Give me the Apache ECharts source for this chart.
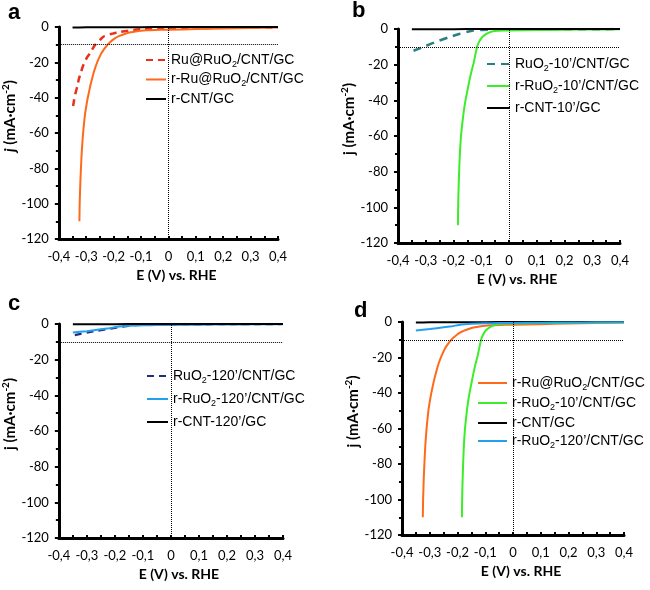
<!DOCTYPE html>
<html><head><meta charset="utf-8">
<script src="https://cdn.jsdelivr.net/npm/echarts@6/dist/echarts.min.js"></script>
<style>html,body{margin:0;padding:0;background:#fff}#c{width:650px;height:590px}</style>
</head><body><div id="c"></div>
<script>
// ---- data ----
const xTicks = [-0.4,-0.3,-0.2,-0.1,0,0.1,0.2,0.3,0.4];
const yTicks = [-120,-100,-80,-60,-40,-20,0];

// panel a
const ruRuO2_E = [-0.348,-0.344,-0.34,-0.336,-0.333,-0.327,-0.32,-0.313,-0.306,-0.3,-0.293,-0.286,-0.277,-0.268,-0.259,-0.25,-0.242,-0.233,-0.222,-0.21,-0.198,-0.186,-0.173,-0.16,-0.14,-0.12,-0.1,-0.05,0,0.1,0.2,0.3,0.4];
const ruRuO2_j = [-44.7,-41,-38,-35.5,-33.8,-29.5,-26,-22.5,-20,-18,-16.3,-14.9,-12.4,-10.2,-8.6,-7.3,-6.1,-5.1,-4.5,-4,-3.5,-3.1,-2.7,-2.4,-2,-1.6,-1.3,-1,-0.8,-0.6,-0.4,-0.3,-0.2];
const rRuRuO2_E = [-0.325,-0.3245,-0.324,-0.323,-0.322,-0.3205,-0.319,-0.3175,-0.316,-0.313,-0.31,-0.307,-0.304,-0.299,-0.295,-0.29,-0.286,-0.28,-0.274,-0.268,-0.262,-0.256,-0.25,-0.245,-0.238,-0.23,-0.221,-0.212,-0.203,-0.194,-0.185,-0.17,-0.155,-0.138,-0.12,-0.1,-0.08,-0.05,0,0.1,0.2,0.3,0.4];
const rRuRuO2_j = [-110,-105,-100,-95,-90,-84,-79,-74,-69.6,-63,-57.5,-53,-48.8,-44,-40.5,-36.8,-33.8,-30,-26.5,-23.4,-20.8,-18.5,-16.5,-14.9,-13.2,-11.5,-9.8,-8.5,-7.3,-6.3,-5.5,-4.5,-3.7,-3.0,-2.5,-2.1,-1.9,-1.7,-1.5,-1.2,-0.9,-0.6,-0.3];
const rCNT_E = [-0.35,-0.3,-0.2,-0.1,0,0.1,0.2,0.3,0.4];
const rCNT_j = [-0.3,-0.2,-0.1,-0.1,0,0,0,0,0];

// panel b
const ruO2_10_E = [-0.344,-0.3,-0.26,-0.22,-0.18,-0.15,-0.13,-0.1,0,0.1,0.2,0.3,0.4];
const ruO2_10_j = [-12.2,-9.5,-7,-4.8,-2.8,-1.5,-0.8,-0.5,-0.3,-0.2,-0.15,-0.1,-0.05];
const rRuO2_10_E = [-0.184,-0.1835,-0.1825,-0.181,-0.179,-0.1765,-0.173,-0.169,-0.165,-0.16,-0.155,-0.151,-0.146,-0.14,-0.134,-0.128,-0.122,-0.115,-0.108,-0.1,-0.091,-0.08,-0.07,-0.061,-0.04,0,0.1,0.2,0.3,0.4];
const rRuO2_10_j = [-110,-102,-94,-86,-77,-68,-60,-54,-48.5,-43,-38.5,-35.5,-31.5,-27,-23,-19.5,-15,-10,-7.2,-5.2,-3.8,-2.6,-1.9,-1.4,-1.0,-0.8,-0.6,-0.4,-0.3,-0.2];
const rCNT10_E = [-0.35,-0.3,-0.2,-0.1,0,0.1,0.2,0.3,0.4];
const rCNT10_j = [-0.2,-0.1,-0.1,0,0,0,0,0,0];

// panel c
const ruO2_120_E = [-0.343,-0.283,-0.225,-0.173,-0.13,-0.1,0,0.1,0.2,0.3,0.4];
const ruO2_120_j = [-6.2,-4.3,-2.8,-1.5,-0.6,-0.5,-0.3,-0.2,-0.1,-0.1,0];
const rRuO2_120_E = [-0.35,-0.3,-0.25,-0.22,-0.19,-0.15,-0.1,-0.05,0,0.1,0.2,0.3,0.4];
const rRuO2_120_j = [-4.8,-4.0,-3.0,-2.4,-1.5,-1.0,-0.7,-0.6,-0.5,-0.4,-0.3,-0.2,-0.1];
const rCNT120_E = [-0.35,-0.3,-0.2,-0.1,0,0.1,0.2,0.3,0.4];
const rCNT120_j = [-0.2,-0.1,-0.1,0,0,0,0,0,0];

const pair = (E, j) => E.map((e, i) => [e, j[i]]);

// ---- styling helpers ----
const AX_FONT = 'Lato';
const LEG_FONT = 'Liberation Sans';
const grids = [
  {left: 53, top: 27, width: 225, height: 212},
  {left: 398, top: 29, width: 222, height: 214},
  {left: 53, top: 324, width: 230, height: 214},
  {left: 402, top: 322, width: 222, height: 213}
];
function xAx(i) {
  return {
    type: 'value', gridIndex: i, min: xTicks[0], max: xTicks[xTicks.length-1], interval: 0.1,
    splitLine: {show: false},
    axisLine: {onZero: false, lineStyle: {color: '#000', width: 3}},
    axisTick: {inside: true, length: 3, lineStyle: {width: 2, color: '#000'}},
    minorTick: {show: true, splitNumber: 2, length: 3, lineStyle: {width: 2, color: '#000'}},
    axisLabel: {margin: 11, color: '#000', fontFamily: AX_FONT, fontSize: 13,
      formatter: v => Math.abs(v) < 1e-9 ? '0' : v.toFixed(1).replace('.', ',')},
    name: 'E (V) vs. RHE', nameLocation: 'middle', nameGap: 29,
    nameTextStyle: {fontFamily: AX_FONT, fontWeight: 'bold', fontSize: 14, color: '#000', padding: [0,0,0,16]}
  };
}
function yAx(i, italic) {
  const nm = italic ? '{i|j}{b| (mA·cm}{s|-2}{b|)}' : '{b|j (mA·cm}{s|-2}{b|)}';
  return {
    type: 'value', gridIndex: i, min: yTicks[0], max: yTicks[yTicks.length-1], interval: 20,
    splitLine: {show: false},
    axisLine: {onZero: false, lineStyle: {color: '#000', width: 3}},
    axisTick: {length: 4, lineStyle: {width: 2, color: '#000'}},
    minorTick: {show: true, splitNumber: 2, length: 3, lineStyle: {width: 2, color: '#000'}},
    axisLabel: {margin: 10, color: '#000', fontFamily: AX_FONT, fontSize: 13},
    name: nm, nameLocation: 'middle', nameRotate: 90, nameGap: 32,
    nameTextStyle: {padding: [0,0,0,34], rich: {
      b: {fontFamily: AX_FONT, fontWeight: 'bold', fontSize: 15, color: '#000', lineHeight: 18},
      i: {fontFamily: AX_FONT, fontWeight: 'bold', fontStyle: 'italic', fontSize: 15, color: '#000', lineHeight: 18},
      s: {fontFamily: AX_FONT, fontWeight: 'bold', fontSize: 10, color: '#000', verticalAlign: 'top'}
    }}
  };
}
function legendFmt(name) {
  return name.split('O2').map(p => '{n|' + p + '}').join('{n|O}{s|2}');
}
function leg(names, left, top, gap, w) {
  return {
    data: names, orient: 'vertical', left: left, top: top, itemGap: gap,
    itemWidth: w, itemHeight: 12, padding: 0, selectedMode: false,
    itemStyle: {opacity: 0},
    formatter: legendFmt,
    textStyle: {rich: {
      n: {fontFamily: LEG_FONT, fontSize: 14, color: '#000', lineHeight: 18},
      s: {fontFamily: LEG_FONT, fontSize: 9, color: '#000', verticalAlign: 'bottom'}
    }}
  };
}
const refLines = {
  silent: true, symbol: 'none', label: {show: false},
  lineStyle: {color: '#000', type: 'dotted', width: 1},
  data: [{xAxis: 0}, {yAxis: -10}]
};
function line(name, i, data, color, width, dash, ml) {
  const s = {
    type: 'line', name: name, xAxisIndex: i, yAxisIndex: i, data: data,
    symbol: 'none', showSymbol: false, smooth: 0.1,
    lineStyle: {color: color, width: width, type: dash || 'solid', join: 'round'},
    itemStyle: {color: color}
  };
  if (ml) s.markLine = refLines;
  return s;
}

const N_A1 = 'Ru@RuO2/CNT/GC', N_A2 = 'r-Ru@RuO2/CNT/GC', N_A3 = 'r-CNT/GC';
const N_B1 = "RuO2-10’/CNT/GC", N_B2 = "r-RuO2-10’/CNT/GC", N_B3 = "r-CNT-10’/GC";
const N_C1 = "RuO2-120’/CNT/GC", N_C2 = "r-RuO2-120’/CNT/GC", N_C3 = "r-CNT-120’/GC";

const C_RED = '#e8301c', C_OR = '#ff6a1a', C_GR = '#3ced2a', C_TEAL = '#2a7f80', C_NAVY = '#252b78', C_BLUE = '#239ff0';

const option = {
  animation: false,
  backgroundColor: '#fff',
  title: [
    {text: 'a', left: 8, top: 2, padding: 0, textStyle: {fontFamily: LEG_FONT, fontWeight: 'bold', fontSize: 22, color: '#000'}},
    {text: 'b', left: 352, top: 0, padding: 0, textStyle: {fontFamily: LEG_FONT, fontWeight: 'bold', fontSize: 22, color: '#000'}},
    {text: 'c', left: 8, top: 293, padding: 0, textStyle: {fontFamily: LEG_FONT, fontWeight: 'bold', fontSize: 22, color: '#000'}},
    {text: 'd', left: 354, top: 300, padding: 0, textStyle: {fontFamily: LEG_FONT, fontWeight: 'bold', fontSize: 22, color: '#000'}}
  ],
  grid: grids,
  xAxis: [xAx(0), xAx(1), xAx(2), xAx(3)],
  yAxis: [yAx(0, true), yAx(1), yAx(2), yAx(3)],
  legend: [
    leg([N_A1, N_A2, N_A3], 145, 53, 3.5, 20),
    leg([N_B1, N_B2, N_B3], 486, 57, 6, 23),
    leg([N_C1, N_C2, N_C3], 146, 369, 7, 21),
    leg([N_A2, N_B2, N_A3, N_C2], 477, 376, 4, 29)
  ],
  series: [
    line(N_A1, 0, pair(ruRuO2_E, ruRuO2_j), C_RED, 2.5, [7, 5], true),
    line(N_A2, 0, pair(rRuRuO2_E, rRuRuO2_j), C_OR, 2),
    line(N_A3, 0, pair(rCNT_E, rCNT_j), '#000', 2),

    line(N_B1, 1, pair(ruO2_10_E, ruO2_10_j), C_TEAL, 2.5, [8, 6], true),
    line(N_B2, 1, pair(rRuO2_10_E, rRuO2_10_j), C_GR, 2),
    line(N_B3, 1, pair(rCNT10_E, rCNT10_j), '#000', 2),

    line(N_C1, 2, pair(ruO2_120_E, ruO2_120_j), C_NAVY, 2.2, [7, 5], true),
    line(N_C2, 2, pair(rRuO2_120_E, rRuO2_120_j), C_BLUE, 2),
    line(N_C3, 2, pair(rCNT120_E, rCNT120_j), '#000', 2),

    line(N_A2, 3, pair(rRuRuO2_E, rRuRuO2_j), C_OR, 2, null, true),
    line(N_B2, 3, pair(rRuO2_10_E, rRuO2_10_j), C_GR, 2),
    line(N_A3, 3, pair(rCNT_E, rCNT_j), '#000', 2),
    line(N_C2, 3, pair(rRuO2_120_E, rRuO2_120_j), C_BLUE, 2)
  ]
};
echarts.init(document.getElementById('c'), null, {renderer: 'canvas'}).setOption(option);
</script>
</body></html>
